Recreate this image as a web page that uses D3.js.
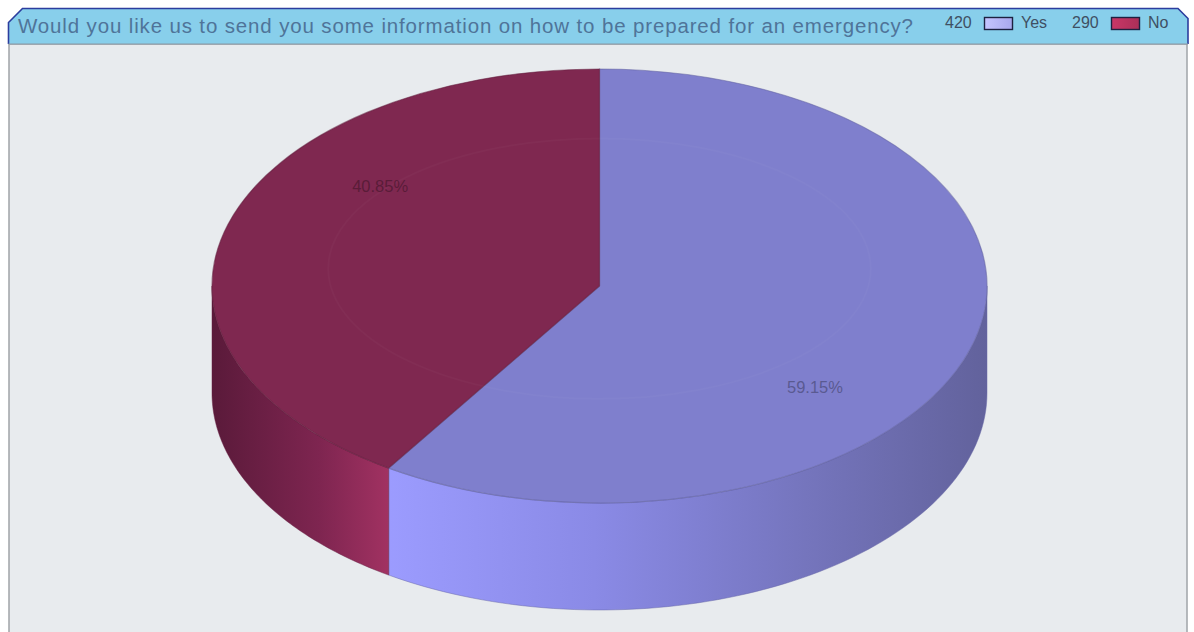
<!DOCTYPE html>
<html>
<head>
<meta charset="utf-8">
<script src="https://cdn.jsdelivr.net/npm/d3@7/dist/d3.min.js"></script>
<style>
  html, body { margin: 0; padding: 0; background: #ffffff; }
  svg { display: block; font-family: "Liberation Sans", Arial, sans-serif; }
</style>
</head>
<body>
<svg id="chart" width="1194" height="632"></svg>
<script>
// Survey answers
const title = "Would you like us to send you some information on how to be prepared for an emergency?";
const categories = ["Yes", "No"];
const counts = [420, 290];
const topColors = ["#7f7fcd", "#7f2850"];
const swatchColors = ["#b4b4ff", "#b8325e"];

const W = 1194, H = 632;
const svg = d3.select("#chart");
const defs = svg.append("defs");

// ---- frame: plot panel and header bar with chamfered top corners ----
const panel = { x0: 9, x1: 1187, y0: 44, y1: H + 5 };
svg.append("rect")
  .attr("x", panel.x0).attr("y", panel.y0)
  .attr("width", panel.x1 - panel.x0).attr("height", panel.y1 - panel.y0)
  .attr("fill", "#e8ebee").attr("stroke", "#a0a4a8").attr("stroke-width", 1.5);

const bar = { x0: 8.5, x1: 1188, y0: 8.5, y1: 44, cl: 14, cr: 10 };
const barPath = d3.path();
barPath.moveTo(bar.x0, bar.y1);
barPath.lineTo(bar.x0, bar.y0 + bar.cl);
barPath.lineTo(bar.x0 + bar.cl, bar.y0);
barPath.lineTo(bar.x1 - bar.cr, bar.y0);
barPath.lineTo(bar.x1, bar.y0 + bar.cr);
barPath.lineTo(bar.x1, bar.y1);
svg.append("path").attr("d", barPath.toString() + "Z")
  .attr("fill", "#88cfeb").attr("stroke", "none");
svg.append("path").attr("d", barPath.toString())
  .attr("fill", "none").attr("stroke", "#2c3d9e").attr("stroke-width", 1.6);
svg.append("line")
  .attr("x1", bar.x0).attr("x2", bar.x1).attr("y1", bar.y1).attr("y2", bar.y1)
  .attr("stroke", "#8a9aa6").attr("stroke-width", 1.2);

svg.append("text")
  .attr("x", 18).attr("y", 32.5)
  .attr("font-size", 20.5)
  .attr("textLength", 895)
  .attr("lengthAdjust", "spacing")
  .attr("fill", "#4f7499")
  .text(title);

// ---- legend (count, swatch, name) ----
const legendX = d3.scaleOrdinal().domain(categories).range([945, 1072]);
const legend = svg.append("g").attr("font-size", 16).attr("fill", "#3f4f63");
categories.forEach((c, i) => {
  const x = legendX(c);
  const g = legend.append("g").attr("transform", `translate(${x},0)`);
  g.append("text").attr("x", 0).attr("y", 28).text(counts[i]);
  const gid = "sw" + i;
  const lg = defs.append("linearGradient").attr("id", gid)
    .attr("x1", 0).attr("x2", 1).attr("y1", 0).attr("y2", 0);
  lg.append("stop").attr("offset", 0).attr("stop-color", d3.color(swatchColors[i]).brighter(0.25));
  lg.append("stop").attr("offset", 1).attr("stop-color", d3.color(swatchColors[i]).darker(0.2));
  g.append("rect").attr("x", 39.5).attr("y", 17.5).attr("width", 28).attr("height", 12)
    .attr("fill", `url(#${gid})`).attr("stroke", "#1d2140").attr("stroke-width", 1.4);
  g.append("text").attr("x", 76).attr("y", 28).text(c);
});

// ---- 3D pie ----
const cx = 599.5, cy = 286, rx = 387.5, ry = 217, depth = 107;
const total = d3.sum(counts);
const pie = d3.pie().sort(null).startAngle(0).endAngle(2 * Math.PI);
const slices = pie(counts).map((d, i) => ({ ...d, cat: categories[i], color: topColors[i] }));

const rimPt = (a, dy = 0) => [cx + rx * Math.sin(a), cy - ry * Math.cos(a) + dy];
const line = d3.line();

// side-wall gradients, horizontal across the drum
const sideStops = [
  [["0", "#9c9cff"], ["0.35", "#8a8ae6"], ["0.7", "#7575bd"], ["1", "#62629c"]],
  [["0", "#5a1a3a"], ["0.6", "#7e2550"], ["1", "#a23262"]]
];
const sideRange = [[cx - rx * 0.56, cx + rx], [cx - rx, cx - rx * 0.54]];
sideStops.forEach((stops, i) => {
  const lg = defs.append("linearGradient").attr("id", "side" + i)
    .attr("gradientUnits", "userSpaceOnUse")
    .attr("x1", sideRange[i][0]).attr("x2", sideRange[i][1]).attr("y1", 0).attr("y2", 0);
  stops.forEach(s => lg.append("stop").attr("offset", s[0]).attr("stop-color", s[1]));
});

// only the front half (pi/2 .. 3pi/2) of the wall is visible
const walls = svg.append("g");
slices.forEach((d, i) => {
  const a0 = Math.max(d.startAngle, Math.PI / 2);
  const a1 = Math.min(d.endAngle, 3 * Math.PI / 2);
  if (a1 <= a0) return;
  const n = 80;
  const angles = d3.range(n + 1).map(k => a0 + (a1 - a0) * k / n);
  const pts = angles.map(a => rimPt(a)).concat(angles.slice().reverse().map(a => rimPt(a, depth)));
  walls.append("path")
    .attr("d", line(pts) + "Z")
    .attr("fill", `url(#side${i})`)
    .attr("stroke", d3.color(d.color).darker(0.6))
    .attr("stroke-width", 0.8)
    .attr("stroke-opacity", 0.6);
});

// top face: flat arcs squashed vertically into an ellipse
const arc = d3.arc().innerRadius(0).outerRadius(rx);
const topFace = svg.append("g")
  .attr("transform", `translate(${cx},${cy}) scale(1,${ry / rx})`);
topFace.selectAll("path.slice")
  .data(slices)
  .join("path")
  .attr("class", "slice")
  .attr("d", arc)
  .attr("fill", d => d.color)
  .attr("stroke", d => d3.color(d.color).darker(0.7))
  .attr("stroke-width", 1.2)
  .attr("stroke-opacity", 0.55)
  .attr("vector-effect", "non-scaling-stroke");

// faint inner sheen ring on the top face
topFace.append("ellipse")
  .attr("cx", 0).attr("cy", -rx * 0.08)
  .attr("rx", rx * 0.7).attr("ry", rx * 0.6)
  .attr("fill", "none")
  .attr("stroke", "#ffffff").attr("stroke-opacity", 0.025)
  .attr("stroke-width", 2)
  .attr("vector-effect", "non-scaling-stroke");

// percentage labels, offset from the pie centre
const labelOffset = [[0.556, 0.465], [-0.566, -0.46]];
svg.append("g")
  .attr("font-size", 16.5)
  .attr("text-anchor", "middle")
  .selectAll("text")
  .data(slices)
  .join("text")
  .attr("x", (d, i) => cx + labelOffset[i][0] * rx)
  .attr("y", (d, i) => cy + labelOffset[i][1] * ry + 6)
  .attr("fill", (d) => d3.color(d.color).darker(1.3))
  .attr("fill-opacity", 0.8)
  .text(d => (d.value / total * 100).toFixed(2) + "%");
</script>
</body>
</html>
